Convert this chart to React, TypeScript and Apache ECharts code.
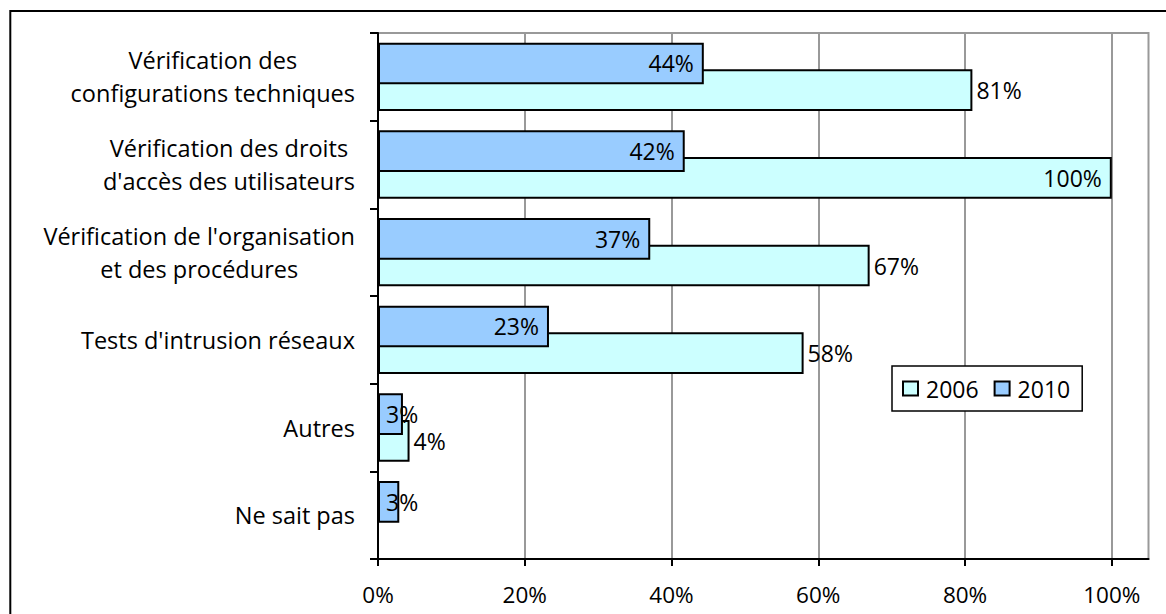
import React, { useEffect, useRef } from 'react';
import * as echarts from 'echarts';

const categories = [
  'Vérification des\nconfigurations techniques',
  "Vérification des droits\nd'accès des utilisateurs",
  "Vérification de l'organisation\net des procédures",
  "Tests d'intrusion réseaux",
  'Autres',
  'Ne sait pas',
];
const values2010: number[] = [44.4, 41.8, 37.1, 23.3, 3.4, 2.9];
const values2006: (number | null)[] = [81, 100, 67, 58, 4.3, null];
const xTicks = [0, 20, 40, 60, 80, 100];
const seriesNames = ['2006', '2010'];

const FONT = "'Open Sans', sans-serif";

export default function App() {
  const ref = useRef<HTMLDivElement>(null);
  useEffect(() => {
    document.body.style.margin = '0';
    if (!ref.current) return;
    const chart = echarts.init(ref.current, null, { renderer: 'svg' });
    const pct = (p: any) => Math.round(p.value) + '%';
    const option: any = {
      animation: false,
      backgroundColor: '#fff',
      textStyle: { fontFamily: FONT },
      grid: {
        left: 378, top: 33, right: 17.5, bottom: 55,
        show: true, borderColor: '#999', borderWidth: 2, containLabel: false,
      },
      xAxis: {
        type: 'value', min: 0, max: 105, interval: 20,
        axisLine: { show: true, lineStyle: { color: '#000', width: 2 } },
        axisTick: { show: true, length: 7, customValues: xTicks, lineStyle: { color: '#000', width: 2 } },
        splitLine: { show: true, lineStyle: { color: '#999', width: 2 } },
        axisLabel: {
          customValues: xTicks,
          formatter: (v: number) => (xTicks.includes(v) ? v + '%' : ''),
          fontSize: 22.5, color: '#000', margin: 24, fontFamily: FONT,
        },
      },
      yAxis: {
        type: 'category', inverse: true, data: categories,
        axisLine: { show: true, lineStyle: { color: '#000', width: 2 } },
        axisTick: { show: true, length: 8, lineStyle: { color: '#000', width: 2 } },
        splitLine: { show: false },
        axisLabel: {
          margin: 23, align: 'right',
          formatter: (v: string) => v.split('\n').map((l) => `{c|${l}}`).join('\n'),
          rich: { c: { align: 'center', fontSize: 23.5, lineHeight: 33, color: '#000', fontFamily: FONT } },
        },
      },
      legend: {
        data: seriesNames, left: 892, top: 366, orient: 'horizontal',
        itemWidth: 15, itemHeight: 14, itemGap: 15, icon: 'rect',
        backgroundColor: '#fff', borderColor: '#000', borderWidth: 1.5,
        padding: [11, 12, 11, 10],
        textStyle: { fontSize: 23, color: '#000', fontFamily: FONT, padding: [0, 0, 0, 3] },
      },
      series: [
        {
          name: '2010', type: 'bar', z: 3,
          barCategoryGap: '22%', barGap: '-36%',
          data: values2010.map((v) => ({
            value: v,
            label: v < 10 ? { position: 'insideLeft', distance: 8 } : undefined,
          })),
          itemStyle: { color: '#99CCFF', borderColor: '#000', borderWidth: 2 },
          label: { show: true, position: 'insideRight', distance: 10, formatter: pct, fontSize: 23, color: '#000', fontFamily: FONT },
        },
        {
          name: '2006', type: 'bar', z: 2,
          barCategoryGap: '22%', barGap: '-36%',
          data: values2006.map((v) =>
            v == null
              ? '-'
              : { value: v, label: v >= 100 ? { position: 'insideRight', distance: 10 } : undefined }
          ),
          itemStyle: { color: '#CCFFFF', borderColor: '#000', borderWidth: 2 },
          label: { show: true, position: 'right', distance: 4, formatter: pct, fontSize: 23, color: '#000', fontFamily: FONT },
        },
      ],
      graphic: [
        {
          type: 'rect', silent: true, z: 100,
          shape: { x: 10.3, y: 11, width: 1200, height: 700 },
          style: { fill: 'none', stroke: '#000', lineWidth: 2 },
        },
      ],
    };
    chart.setOption(option);
    return () => chart.dispose();
  }, []);
  return <div ref={ref} style={{ width: 1166, height: 614 }} />;
}
